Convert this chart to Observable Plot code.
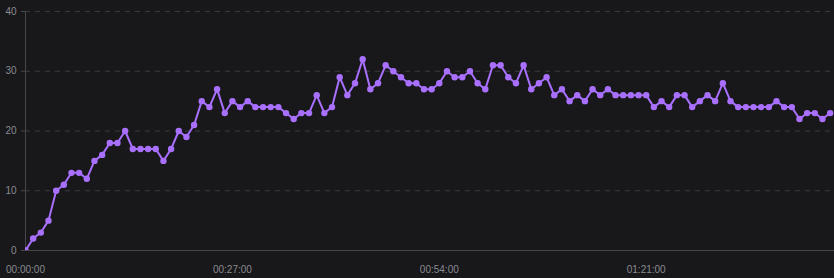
<!DOCTYPE html>
<html>
<head>
<meta charset="utf-8">
<script src="https://cdn.jsdelivr.net/npm/d3@7"></script>
<script src="https://cdn.jsdelivr.net/npm/@observablehq/plot@0.6"></script>
<style>
  html, body { margin: 0; padding: 0; background: #18181b; }
  #chart svg { display: block; background: #18181b; }
</style>
</head>
<body>
<div id="chart"></div>
<script>
// values per minute (one sample per minute)
const values = [
  0,2,3,5,10,11,13,13,12,15,16,18,18,20,17,17,17,17,15,17,20,19,21,25,24,27,23,25,24,25,24,24,24,24,
  23,22,23,23,26,23,24,29,26,28,32,27,28,31,30,29,28,28,27,27,28,30,29,29,30,28,27,31,31,29,28,31,27,28,29,
  26,27,25,26,25,27,26,27,26,26,26,26,26,24,25,24,26,26,24,25,26,25,28,25,24,24,24,24,24,25,24,24,22,23,23,22,23
];
const xTickMinutes = [0, 27, 54, 81];
const xTickLabels = ["00:00:00", "00:27:00", "00:54:00", "01:21:00"];
const yTicks = [0, 10, 20, 30, 40];

const data = values.map((v, i) => ({minute: i, value: v}));

const lineColor = "#a970ff";
const gridColor = "#3a3a40";
const axisColor = "#46464c";
const textColor = "#8a8a90";

const chart = Plot.plot({
  width: 834,
  height: 278,
  marginLeft: 25,
  marginRight: 0,
  marginTop: 11,
  marginBottom: 28,
  style: {background: "#18181b", fontFamily: "'Liberation Sans', Arial, sans-serif", fontSize: "10px", color: textColor},
  x: {domain: [0, 105.57], label: null},
  y: {domain: [0, 40], label: null},
  marks: [
    Plot.ruleY(yTicks.filter(d => d > 0), {stroke: gridColor, strokeDasharray: "5,5", strokeWidth: 1}),
    Plot.axisY({ticks: yTicks, tickSize: 4, tickPadding: 5, stroke: axisColor, fill: textColor, label: null}),
    Plot.axisX({ticks: xTickMinutes, tickFormat: (d) => xTickLabels[xTickMinutes.indexOf(d)], tickSize: 0, tickPadding: 15, fill: textColor, label: null}),
    Plot.ruleX([0], {y1: 0, y2: 40, stroke: axisColor}),
    Plot.ruleY([0], {stroke: axisColor}),
    Plot.line(data, {x: "minute", y: "value", stroke: lineColor, strokeWidth: 2, clip: true}),
    Plot.dot(data, {x: "minute", y: "value", fill: lineColor, r: 3.2, stroke: "none", clip: true})
  ]
});
document.getElementById("chart").appendChild(chart);
</script>
</body>
</html>
